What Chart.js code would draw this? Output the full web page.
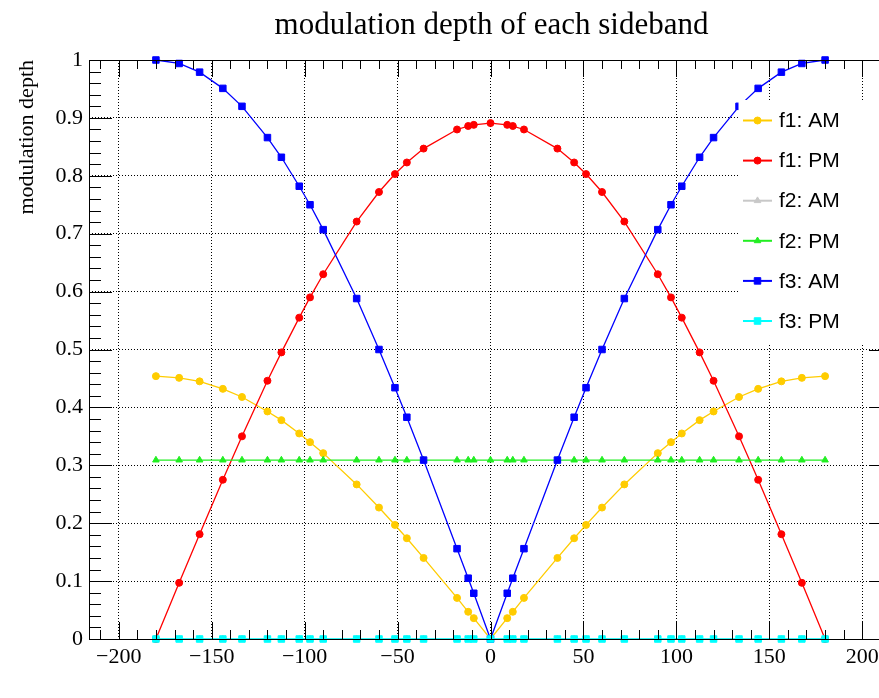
<!DOCTYPE html>
<html>
<head>
<meta charset="utf-8">
<title>modulation depth of each sideband</title>
<script src="https://cdn.jsdelivr.net/npm/chart.js@4/dist/chart.umd.min.js"></script>
<style>
html, body { margin: 0; padding: 0; background: #fff; overflow: hidden; }
#wrap { width: 900px; height: 698px; }
</style>
</head>
<body>
<div id="wrap"><canvas id="depth-chart" width="900" height="698"></canvas></div>
<script>
// phase (deg) of each point, shared by all graphs
const phase = [-180, -167.5, -156.5, -144, -133.7, -120, -112.5, -102.9, -97.1, -90, -72, -60, -51.4, -45, -36, -18, -12, -9, 0,
    9, 12, 18, 36, 45, 51.4, 60, 72, 90, 97.1, 102.9, 112.5, 120, 133.7, 144, 156.5, 167.5, 180]

const f1_am = [0.454, 0.451, 0.445, 0.432, 0.418, 0.393, 0.378, 0.355, 0.340, 0.321, 0.267, 0.227, 0.197, 0.174, 0.140, 0.071, 0.047, 0.036, 0,
    0.036, 0.047, 0.071, 0.140, 0.174, 0.197, 0.227, 0.267, 0.321, 0.340, 0.355, 0.378, 0.393, 0.418, 0.432, 0.445, 0.451, 0.454]
const f1_pm = [0, 0.097, 0.181, 0.275, 0.350, 0.446, 0.495, 0.555, 0.590, 0.630, 0.721, 0.772, 0.803, 0.823, 0.847, 0.880, 0.886, 0.888, 0.891,
    0.888, 0.886, 0.880, 0.847, 0.823, 0.803, 0.772, 0.721, 0.630, 0.590, 0.555, 0.495, 0.446, 0.350, 0.275, 0.181, 0.097, 0]
const f2_am = [0, 0, 0, 0, 0, 0, 0, 0, 0, 0, 0, 0, 0, 0, 0, 0, 0, 0, 0,
    0, 0, 0, 0, 0, 0, 0, 0, 0, 0, 0, 0, 0, 0, 0, 0, 0, 0]
const f2_pm = [0.309, 0.309, 0.309, 0.309, 0.309, 0.309, 0.309, 0.309, 0.309, 0.309, 0.309, 0.309, 0.309, 0.309, 0.309, 0.309, 0.309, 0.309, 0.309,
    0.309, 0.309, 0.309, 0.309, 0.309, 0.309, 0.309, 0.309, 0.309, 0.309, 0.309, 0.309, 0.309, 0.309, 0.309, 0.309, 0.309, 0.309]
const f3_am = [1, 0.994, 0.979, 0.951, 0.920, 0.866, 0.832, 0.782, 0.750, 0.707, 0.588, 0.500, 0.434, 0.383, 0.309, 0.156, 0.105, 0.079, 0,
    0.079, 0.105, 0.156, 0.309, 0.383, 0.434, 0.500, 0.588, 0.707, 0.750, 0.782, 0.832, 0.866, 0.920, 0.951, 0.979, 0.994, 1]
const f3_pm = [0, 0, 0, 0, 0, 0, 0, 0, 0, 0, 0, 0, 0, 0, 0, 0, 0, 0, 0,
    0, 0, 0, 0, 0, 0, 0, 0, 0, 0, 0, 0, 0, 0, 0, 0, 0, 0]

const x_ticks = [-200, -150, -100, -50, 0, 50, 100, 150, 200]
const y_ticks = [0, 0.1, 0.2, 0.3, 0.4, 0.5, 0.6, 0.7, 0.8, 0.9, 1]

const chart_title = 'modulation depth of each sideband'
const y_title = 'modulation depth'

const serif = '"Liberation Serif", "DejaVu Serif", serif'
const sans = '"Liberation Sans", Arial, sans-serif'


function points(values) {
    return phase.map((x, i) => ({x: x, y: values[i]}))
}

function graph(label, values, color, style, radius, order) {
    return {
        label: label,
        data: points(values),
        showLine: true,
        borderColor: color,
        backgroundColor: color,
        borderWidth: 1.3,
        pointStyle: style,
        pointRadius: radius,
        pointBorderWidth: 1,
        pointBorderColor: color,
        pointBackgroundColor: color,
        clip: false,
        order: order
    }
}

let datasets = [
    graph('f1: AM', f1_am, '#ffcc00', 'circle', 3.5, 5),
    graph('f1: PM', f1_pm, '#ff0000', 'circle', 3.5, 4),
    graph('f2: AM', f2_am, '#c8c8c8', 'triangle', 3.8, 3),
    graph('f2: PM', f2_pm, '#22ee22', 'triangle', 3.8, 2),
    graph('f3: AM', f3_am, '#0000ff', 'rect', 4.6, 1),
    graph('f3: PM', f3_pm, '#00ffff', 'rect', 4.6, 0)
]


function marker(ctx, style, x, y, r) {
    ctx.beginPath()
    if (style === 'circle') {
        ctx.arc(x, y, r, 0, Math.PI * 2)
    } else if (style === 'rect') {
        let s = r * Math.SQRT1_2
        ctx.rect(x - s, y - s, 2 * s, 2 * s)
    } else {
        ctx.moveTo(x, y - r)
        ctx.lineTo(x + r * 0.866, y + r * 0.5)
        ctx.lineTo(x - r * 0.866, y + r * 0.5)
        ctx.closePath()
    }
    ctx.fill()
    ctx.stroke()
}


// frame with root style inner ticks, legend box and title
const decorations = {
    id: 'decorations',
    afterDatasetsDraw(chart) {
        const ctx = chart.ctx
        const a = chart.chartArea
        const sx = chart.scales.x
        const sy = chart.scales.y

        ctx.save()
        ctx.setLineDash([])
        ctx.strokeStyle = '#000'
        ctx.lineWidth = 1
        ctx.beginPath()
        for (let v = -210; v <= 210; v += 10) {
            let px = Math.round(sx.getPixelForValue(v)) + 0.5
            let len = v % 50 === 0 ? 17 : 9
            ctx.moveTo(px, a.bottom)
            ctx.lineTo(px, a.bottom - len)
            ctx.moveTo(px, a.top)
            ctx.lineTo(px, a.top + len)
        }
        for (let k = 0; k <= 50; k++) {
            let py = Math.round(sy.getPixelForValue(k * 0.02)) + 0.5
            let len = k % 5 === 0 ? 23 : 12
            ctx.moveTo(a.left, py)
            ctx.lineTo(a.left + len, py)
            ctx.moveTo(a.right, py)
            ctx.lineTo(a.right - len, py)
        }
        ctx.stroke()
        ctx.strokeRect(Math.round(a.left) + 0.5, Math.round(a.top) + 0.5,
            Math.round(a.right - a.left), Math.round(a.bottom - a.top))

        // legend
        ctx.fillStyle = '#fff'
        ctx.fillRect(738.5, 100, 170, 243)
        chart.data.datasets.forEach((ds, i) => {
            let y = 120.5 + i * 40.1
            ctx.strokeStyle = ds.borderColor
            ctx.fillStyle = ds.borderColor
            ctx.lineWidth = 2
            ctx.beginPath()
            ctx.moveTo(743, y)
            ctx.lineTo(772, y)
            ctx.stroke()
            ctx.lineWidth = 1
            marker(ctx, ds.pointStyle, 757.5, y, ds.pointRadius)
            ctx.fillStyle = '#000'
            ctx.font = '21px ' + sans
            ctx.textAlign = 'left'
            ctx.textBaseline = 'middle'
            ctx.fillText(ds.label, 779, y + 1)
        })

        ctx.fillStyle = '#000'
        ctx.font = '31px ' + serif
        ctx.textAlign = 'center'
        ctx.textBaseline = 'alphabetic'
        ctx.fillText(chart_title, 491.5, 33.5)
        ctx.restore()
    }
}


let ctx = document.getElementById('depth-chart')

let options = {
    responsive: false,
    devicePixelRatio: 1,
    animation: false,
    events: [],
    layout: {
        padding: {top: 60, right: 8, left: 0, bottom: 0}
    },
    plugins: {
        legend: {display: false},
        tooltip: {enabled: false}
    },
    scales: {
        x: {
            type: 'linear',
            min: -216,
            max: 216,
            afterBuildTicks: function (scale) {
                scale.ticks = x_ticks.map(v => ({value: v}))
            },
            afterFit: function (scale) {
                scale.height = 59
            },
            ticks: {
                autoSkip: false,
                maxRotation: 0,
                padding: 5,
                color: '#000',
                font: {family: serif, size: 22},
                callback: function (value) {
                    return value < 0 ? '\u2212' + Math.abs(value) : String(value)
                }
            },
            grid: {
                color: '#000',
                lineWidth: 1,
                drawTicks: false
            },
            border: {display: false, dash: [1, 2]}
        },
        y: {
            type: 'linear',
            min: 0,
            max: 1,
            afterBuildTicks: function (scale) {
                scale.ticks = y_ticks.map(v => ({value: v}))
            },
            afterFit: function (scale) {
                scale.width = 89
            },
            ticks: {
                padding: 6,
                color: '#000',
                font: {family: serif, size: 22},
                callback: function (value) {
                    return String(Math.round(value * 10) / 10)
                }
            },
            grid: {
                color: '#000',
                lineWidth: 1,
                drawTicks: false
            },
            border: {display: false, dash: [1, 2]},
            title: {
                display: true,
                text: y_title,
                align: 'end',
                color: '#000',
                font: {family: serif, size: 22},
                padding: {top: 14, bottom: 0}
            }
        }
    }
}

let my_chart = new Chart(ctx, {
    type: 'scatter',
    data: {datasets: datasets},
    options: options,
    plugins: [decorations]
})
</script>
</body>
</html>
